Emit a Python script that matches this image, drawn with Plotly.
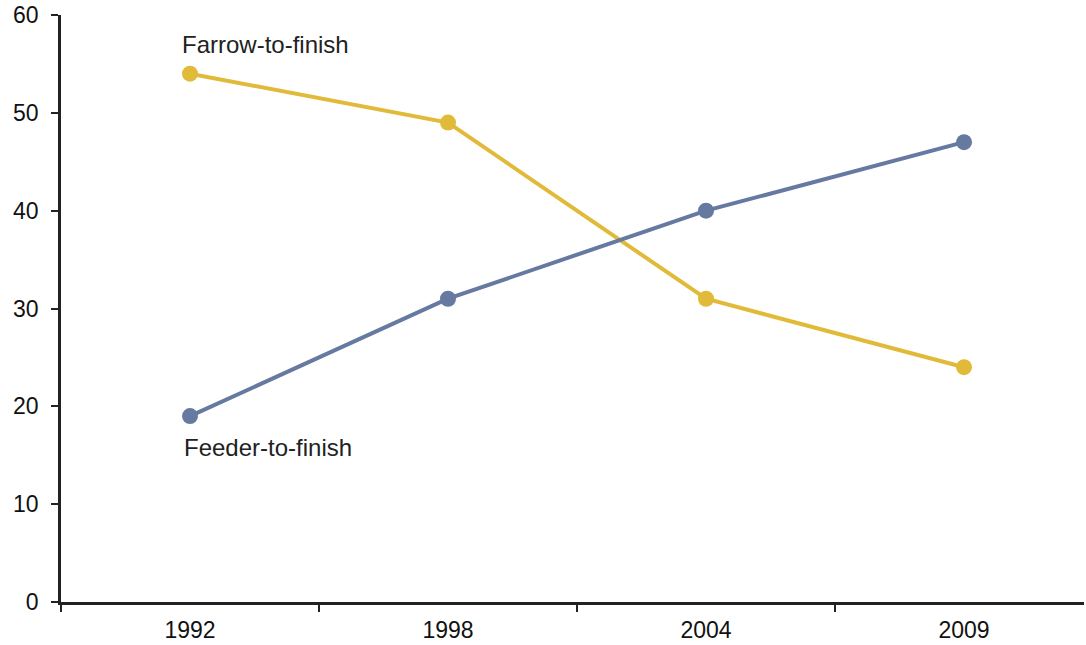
import plotly.graph_objects as go

years = ["1992", "1998", "2004", "2009"]
farrow = [54, 49, 31, 24]
feeder = [19, 31, 40, 47]
y_ticks = [0, 10, 20, 30, 40, 50, 60]

GOLD = "#E2BA3A"
BLUE = "#6579A1"
FONT = "Liberation Sans, Arial, Helvetica, sans-serif"

fig = go.Figure()
fig.add_trace(go.Scatter(x=years, y=farrow, mode="lines+markers",
                         line=dict(color=GOLD, width=4),
                         marker=dict(color=GOLD, size=16), cliponaxis=False,
                         name="Farrow-to-finish"))
fig.add_trace(go.Scatter(x=years, y=feeder, mode="lines+markers",
                         line=dict(color=BLUE, width=4),
                         marker=dict(color=BLUE, size=16), cliponaxis=False,
                         name="Feeder-to-finish"))

first = years.index(years[0])
fig.add_annotation(x=first, y=farrow[0], xref="x", yref="y", text="Farrow-to-finish",
                   showarrow=False, xanchor="left", yanchor="bottom", xshift=-10, yshift=14,
                   font=dict(size=24, color="#222222", family=FONT))
fig.add_annotation(x=first, y=feeder[0], xref="x", yref="y", text="Feeder-to-finish",
                   showarrow=False, xanchor="left", yanchor="top", xshift=-8, yshift=-16,
                   font=dict(size=24, color="#222222", family=FONT))

fig.update_layout(
    width=1086, height=645,
    margin=dict(l=61, r=2, t=14, b=42),
    plot_bgcolor="white", paper_bgcolor="white",
    showlegend=False,
    font=dict(family=FONT, size=23, color="#111111"),
)
fig.update_xaxes(type="category", range=[-0.5, 3.465], showline=True, linecolor="#222222",
                 linewidth=2.5, ticks="outside", tickson="boundaries", ticklen=7,
                 tickwidth=2, tickcolor="#222222", showgrid=False, zeroline=False,
                 ticklabelstandoff=6)
fig.update_yaxes(range=[0, 60], tickvals=y_ticks, showline=True, linecolor="#222222",
                 linewidth=2.5, ticks="outside", ticklen=7, tickwidth=2,
                 tickcolor="#222222", showgrid=False, zeroline=False,
                 ticklabelstandoff=8)

fig.write_html("out.html", config={"displayModeBar": False},
               post_script="document.body.style.margin='0';")
